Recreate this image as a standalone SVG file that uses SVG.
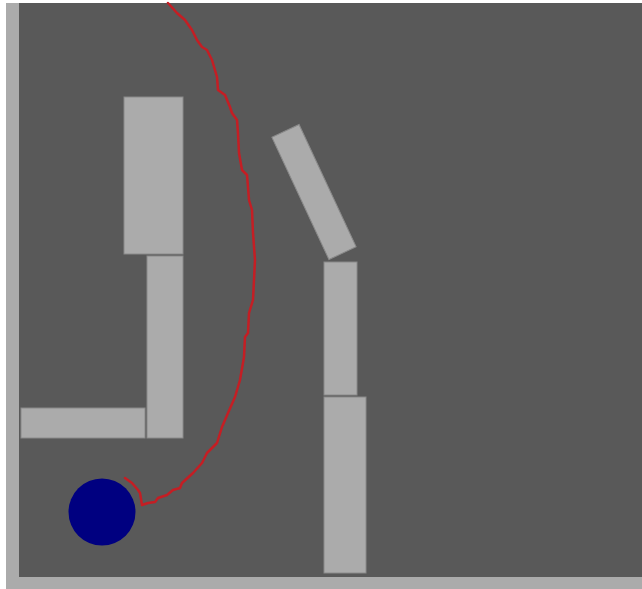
<svg xmlns="http://www.w3.org/2000/svg" width="642" height="589" viewBox="0 0 642 589">
<style>
.block{fill:#ababab;stroke:#8a8a8a;stroke-width:1}
.wall{fill:#ababab}
</style>
<rect x="0" y="0" width="642" height="589" fill="#ffffff"/>
<rect x="6" y="3" width="636" height="586" fill="#595959"/>
<rect class="wall" x="6" y="3" width="13" height="586"/>
<rect class="wall" x="6" y="577" width="636" height="12"/>
<g id="obstacles">
<rect id="block1" class="block" x="124" y="97" width="59" height="157"/>
<rect id="block2" class="block" x="147" y="256" width="36" height="182"/>
<rect id="block3" class="block" x="21" y="408" width="124" height="30"/>
<rect id="block4" class="block" x="-15" y="-67.5" width="30" height="135" transform="translate(314,192) rotate(-25)"/>
<rect id="block5" class="block" x="324" y="262" width="33" height="133"/>
<rect id="block6" class="block" x="324" y="397" width="42" height="176"/>
</g>
<g id="path">
<polyline fill="none" stroke="#c41e24" stroke-width="2.5" stroke-linejoin="round" stroke-linecap="round" points="168,3 177,13 185,20 192,30 197,40 202,47 207,50 212,60 217,77 218,90 225,95 230,107 232,113 237,120 238,133 239,153 242,170 247,175 248,187 249,200 252,210 253,233 255,260 253,300 249,313 248,333 245,337 244,357 240,380 235,397 228,413 222,427 217,443 207,453 202,463 193,473 182,483 180,488 173,490 167,495 158,498 155,502 148,503 142,505 140,493 138,490 132,483 125,478"/>
</g>
<g id="robot">
<circle cx="102" cy="512" r="33.5" fill="#000080"/>
</g>
</svg>
